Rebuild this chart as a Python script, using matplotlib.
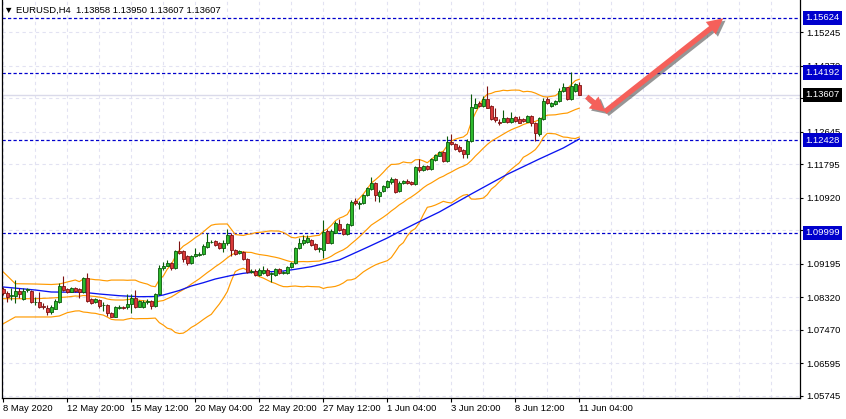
import matplotlib
matplotlib.use('Agg')
import matplotlib.pyplot as plt
import numpy as np
import pandas as pd
from matplotlib.patches import FancyArrowPatch
import matplotlib.patheffects as pe
from matplotlib.transforms import blended_transform_factory

plt.rcParams['font.family'] = ['Liberation Sans', 'DejaVu Sans']

# ---------------- data ----------------
opens = [1.08525, 1.08436, 1.08342, 1.08358, 1.08489, 1.08263, 1.08507, 1.08481, 1.08193, 1.08201,
         1.08095, 1.08027, 1.07925, 1.08016, 1.08201, 1.08611, 1.08533, 1.08462, 1.08567, 1.08525,
         1.08447, 1.08813, 1.08263, 1.08185, 1.08245, 1.08106, 1.08114, 1.07914, 1.07809, 1.08044,
         1.08062, 1.08055, 1.08140, 1.08305, 1.08069, 1.08055, 1.08193, 1.08219, 1.08095, 1.08394,
         1.09090, 1.09142, 1.09220, 1.09074, 1.09527, 1.09527, 1.09396, 1.09205, 1.09396, 1.09422,
         1.09440, 1.09639, 1.09762, 1.09788, 1.09728, 1.09613, 1.09728, 1.09945, 1.09553, 1.09466,
         1.09508, 1.09310, 1.08978, 1.09012, 1.08899, 1.08943, 1.09030, 1.08933, 1.08899, 1.09048,
         1.08960, 1.08943, 1.09100, 1.09205, 1.09597, 1.09728, 1.09770, 1.09814, 1.09709, 1.09571,
         1.09553, 1.10050, 1.09728, 1.10005, 1.10232, 1.10094, 1.09971, 1.10206, 1.10834, 1.10756,
         1.10774, 1.10991, 1.11148, 1.11312, 1.10965, 1.11095, 1.11192, 1.11339, 1.11409, 1.11103,
         1.11297, 1.11357, 1.11339, 1.11271, 1.11715, 1.11645, 1.11757, 1.11671, 1.11906, 1.12019,
         1.12108, 1.11880, 1.12369, 1.12324, 1.12254, 1.12168, 1.12055, 1.12403, 1.13274, 1.13404,
         1.13326, 1.13493, 1.13326, 1.13023, 1.12908, 1.12908, 1.12997, 1.12908, 1.13023, 1.12970,
         1.12970, 1.12908, 1.13057, 1.12866, 1.12586, 1.12978, 1.13493, 1.13326, 1.13370, 1.13457,
         1.13710, 1.13807, 1.13493, 1.13710, 1.13858]
highs = [1.08585, 1.08481, 1.08551, 1.08768, 1.08551, 1.08551, 1.08551, 1.08507, 1.08331, 1.08447,
         1.08158, 1.08114, 1.08114, 1.08271, 1.08682, 1.08873, 1.08559, 1.08585, 1.08593, 1.08559,
         1.08847, 1.08960, 1.08297, 1.08297, 1.08271, 1.08201, 1.08140, 1.07932, 1.08075, 1.08114,
         1.08101, 1.08394, 1.08394, 1.08507, 1.08245, 1.08245, 1.08263, 1.08245, 1.08428, 1.09160,
         1.09247, 1.09291, 1.09239, 1.09553, 1.09788, 1.09553, 1.09422, 1.09430, 1.09613, 1.09500,
         1.09709, 1.10005, 1.09814, 1.09814, 1.09762, 1.09814, 1.10094, 1.09989, 1.09579, 1.09553,
         1.09526, 1.09344, 1.09056, 1.09056, 1.09082, 1.09134, 1.09082, 1.08978, 1.09082, 1.09090,
         1.09004, 1.09134, 1.09247, 1.09631, 1.09858, 1.09945, 1.09945, 1.09840, 1.09736, 1.09631,
         1.10337, 1.10102, 1.10102, 1.10311, 1.10355, 1.10128, 1.10259, 1.10860, 1.10905, 1.10842,
         1.11017, 1.11200, 1.11454, 1.11331, 1.11122, 1.11252, 1.11396, 1.11469, 1.11435, 1.11357,
         1.11383, 1.11401, 1.11365, 1.11749, 1.11924, 1.11775, 1.11775, 1.11958, 1.12063, 1.12141,
         1.12141, 1.12541, 1.12586, 1.12351, 1.12298, 1.12194, 1.12455, 1.13624, 1.13519, 1.13449,
         1.13587, 1.13841, 1.13344, 1.13258, 1.12970, 1.13214, 1.13038, 1.13169, 1.13057, 1.13057,
         1.13004, 1.13083, 1.13083, 1.12900, 1.13031, 1.13519, 1.13546, 1.13431, 1.13475, 1.13781,
         1.13912, 1.13823, 1.14215, 1.13912, 1.13950]
lows = [1.08376, 1.08201, 1.08245, 1.08159, 1.08305, 1.08245, 1.08462, 1.08167, 1.08114, 1.08027,
        1.08001, 1.07853, 1.07871, 1.08010, 1.08159, 1.08481, 1.08428, 1.08454, 1.08462, 1.08305,
        1.08428, 1.08201, 1.08140, 1.08167, 1.08027, 1.07958, 1.07834, 1.07788, 1.07801, 1.08010,
        1.08010, 1.08001, 1.07897, 1.08027, 1.08049, 1.08036, 1.08140, 1.08001, 1.08062, 1.08376,
        1.09030, 1.09122, 1.09030, 1.09056, 1.09448, 1.09239, 1.09173, 1.09186, 1.09378, 1.09396,
        1.09422, 1.09597, 1.09728, 1.09657, 1.09579, 1.09508, 1.09683, 1.09396, 1.09422, 1.09448,
        1.09291, 1.08952, 1.08952, 1.08873, 1.08873, 1.08925, 1.08873, 1.08716, 1.08873, 1.08925,
        1.08925, 1.08925, 1.09082, 1.09186, 1.09571, 1.09683, 1.09728, 1.09657, 1.09553, 1.09508,
        1.09336, 1.09728, 1.09709, 1.09989, 1.10057, 1.09945, 1.09945, 1.10180, 1.10729, 1.10617,
        1.10756, 1.10965, 1.11122, 1.10842, 1.10816, 1.11069, 1.11174, 1.11278, 1.11035, 1.11069,
        1.11278, 1.11278, 1.11252, 1.11252, 1.11600, 1.11619, 1.11645, 1.11645, 1.11880, 1.11998,
        1.11854, 1.11862, 1.12298, 1.12168, 1.12115, 1.11951, 1.11951, 1.12385, 1.13258, 1.13292,
        1.13300, 1.13258, 1.12952, 1.12892, 1.12821, 1.12892, 1.12874, 1.12866, 1.12908, 1.12866,
        1.12900, 1.12887, 1.12795, 1.12403, 1.12541, 1.12952, 1.13370, 1.13300, 1.13357, 1.13431,
        1.13692, 1.13475, 1.13475, 1.13676, 1.13607]
closes = [1.08436, 1.08331, 1.08376, 1.08489, 1.08394, 1.08481, 1.08525, 1.08185, 1.08201, 1.08069,
          1.08069, 1.07941, 1.08069, 1.08219, 1.08611, 1.08507, 1.08462, 1.08567, 1.08489, 1.08447,
          1.08813, 1.08227, 1.08175, 1.08263, 1.08095, 1.08122, 1.07897, 1.07809, 1.08055, 1.08062,
          1.08044, 1.08140, 1.08305, 1.08069, 1.08219, 1.08201, 1.08211, 1.08095, 1.08394, 1.09090,
          1.09134, 1.09220, 1.09074, 1.09527, 1.09474, 1.09310, 1.09205, 1.09396, 1.09440, 1.09440,
          1.09657, 1.09770, 1.09770, 1.09683, 1.09597, 1.09744, 1.09945, 1.09553, 1.09440, 1.09527,
          1.09310, 1.08985, 1.08996, 1.08899, 1.09030, 1.09030, 1.08899, 1.08943, 1.09048, 1.08943,
          1.08970, 1.09116, 1.09220, 1.09597, 1.09744, 1.09814, 1.09858, 1.09683, 1.09571, 1.09605,
          1.10031, 1.09744, 1.10050, 1.10267, 1.10076, 1.09971, 1.10225, 1.10816, 1.10774, 1.10790,
          1.10991, 1.11166, 1.11312, 1.10991, 1.11077, 1.11226, 1.11365, 1.11409, 1.11077, 1.11312,
          1.11357, 1.11312, 1.11271, 1.11715, 1.11645, 1.11757, 1.11671, 1.11924, 1.12037, 1.12108,
          1.11880, 1.12369, 1.12317, 1.12186, 1.12141, 1.12055, 1.12403, 1.13300, 1.13370, 1.13326,
          1.13493, 1.13274, 1.12970, 1.12952, 1.12866, 1.12997, 1.12892, 1.13012, 1.12934, 1.12881,
          1.12926, 1.13057, 1.12866, 1.12604, 1.12997, 1.13449, 1.13404, 1.13404, 1.13457, 1.13710,
          1.13807, 1.13493, 1.13849, 1.13886, 1.13607]

# Bollinger band values at the left edge (before 20 bars are available)
bb_head_bars = [0, 3, 8, 12, 14, 16, 18]
bb_upper_head = [1.08977, 1.08671, 1.08663, 1.08650, 1.08663, 1.08716, 1.08768]
bb_mid_head = [1.08279, 1.08279, 1.08279, 1.08297, 1.08310, 1.08324, 1.08350]
bb_lower_head = [1.07625, 1.07801, 1.07801, 1.07801, 1.07827, 1.07913, 1.07957]

# blue moving average
ma_bars = [0, 8, 12, 20, 24, 29, 34, 38, 40, 44, 47, 50, 53, 57, 60, 64, 67, 70, 73, 77,
           84, 91, 96, 99, 104, 109, 117, 126, 134, 140, 144]
ma_vals = [1.08585, 1.08506, 1.08454, 1.08446, 1.08402, 1.08357, 1.08331, 1.08336, 1.08376,
           1.08493, 1.08611, 1.08697, 1.08794, 1.08886, 1.08943, 1.08985, 1.08985, 1.09003,
           1.09048, 1.09116, 1.09291, 1.09623, 1.09866, 1.10031, 1.10293, 1.10546, 1.11017,
           1.11532, 1.11932, 1.12220, 1.12455]

x_tick_bars = [0, 16, 32, 48, 64, 80, 96, 112, 128, 144]
x_tick_labels = ['8 May 2020', '12 May 20:00', '15 May 12:00', '20 May 04:00', '22 May 20:00',
                 '27 May 12:00', '1 Jun 04:00', '3 Jun 20:00', '8 Jun 12:00', '11 Jun 04:00']
y_tick_labels = ['1.15245', '1.14370', '1.13520', '1.12645', '1.11795', '1.10920',
                 '1.10070', '1.09195', '1.08320', '1.07470', '1.06595', '1.05745']
level_lines = [1.15624, 1.14192, 1.12428, 1.09999]
last_price = 1.13607
title_text = '\u25bc EURUSD,H4  1.13858 1.13950 1.13607 1.13607'

# arrows: (bar, price) start / end
arrow_short = ((145.85, 1.13561), (150.4, 1.13169))
arrow_long = ((150.4, 1.13169), (180.0, 1.15611))

# ---------------- figure ----------------
W, H = 846, 419
fig = plt.figure(figsize=(W / 100, H / 100), dpi=100)
ax_left, ax_right, ax_top, ax_bottom = 2.0, 800.3, 0.0, 397.7
ax = fig.add_axes([ax_left / W, (H - ax_bottom) / H, (ax_right - ax_left) / W, (ax_bottom - ax_top) / H])
ax.set_xlim(-0.325, 199.25)
ax.set_ylim(1.05690, 1.16090)

n = len(closes)
idx = np.arange(n)
o, hi, lo, c = map(np.array, (opens, highs, lows, closes))
up = c >= o

grid_col = '#E2E2F2'
yticks = [float(t) for t in y_tick_labels]
for yv in yticks:
    ax.axhline(yv, color=grid_col, lw=0.8, dashes=(3, 3), zorder=0.5)
for b in range(0, 200, 8):
    ax.axvline(b, color=grid_col, lw=0.8, dashes=(3, 3), zorder=0.5)

ax.axhline(last_price, color='#DADAEA', lw=1.0, zorder=1)
for lv in level_lines:
    ax.axhline(lv, color='#0000CD', lw=0.9, dashes=(2.6, 1.8), zorder=2)

# Bollinger bands (20, 2)
s = pd.Series(closes)
mid = s.rolling(20).mean()
sd = s.rolling(20).std(ddof=0)
upper = mid + 2 * sd
lower = mid - 2 * sd
bx = list(bb_head_bars) + list(range(19, n))
band_col = '#FF9A00'
for head, comp in ((bb_upper_head, upper), (bb_mid_head, mid), (bb_lower_head, lower)):
    ax.plot(bx, list(head) + list(comp.values[19:]), color=band_col, lw=0.85, zorder=2.5)

ax.plot(ma_bars, ma_vals, color='#0A14F0', lw=0.95, zorder=2.6)

# candles
g_fill, g_edge = '#2DBA2D', '#0A5A0A'
r_fill, r_edge = '#DA3A3A', '#7E1212'
ax.vlines(idx[up], lo[up], hi[up], color=g_edge, lw=0.8, zorder=3)
ax.vlines(idx[~up], lo[~up], hi[~up], color=r_edge, lw=0.8, zorder=3)
ax.bar(idx[up], (c - o)[up], bottom=o[up], width=0.72, color=g_fill, edgecolor=g_edge, lw=0.6, zorder=4)
ax.bar(idx[~up], (c - o)[~up], bottom=o[~up], width=0.72, color=r_fill, edgecolor=r_edge, lw=0.6, zorder=4)

# arrows
arrow_col = '#F5605A'
def draw_arrow(p0, p1, hl, hw, tw):
    arr = FancyArrowPatch(p0, p1,
                          arrowstyle=f'simple,head_length={hl},head_width={hw},tail_width={tw}',
                          mutation_scale=10, color=arrow_col, lw=0, zorder=6,
                          shrinkA=0, shrinkB=0, clip_on=False)
    arr.set_path_effects([pe.SimplePatchShadow(offset=(1.6, -1.6), shadow_rgbFace='#404040', alpha=0.55),
                          pe.Normal()])
    ax.add_patch(arr)

draw_arrow(arrow_short[0], arrow_short[1], 1.05, 1.1, 0.38)
draw_arrow(arrow_long[0], arrow_long[1], 1.15, 1.15, 0.38)

# axes / ticks
fs = 6.8
ax.spines['top'].set_visible(False)
for sp in ('left', 'right', 'bottom'):
    ax.spines[sp].set_color('black')
    ax.spines[sp].set_linewidth(0.9)
ax.yaxis.tick_right()
ax.set_yticks(yticks)
ax.set_yticklabels(y_tick_labels)
ax.set_xticks(x_tick_bars)
ax.set_xticklabels(x_tick_labels, ha='left')
ax.tick_params(axis='y', direction='out', length=2.5, width=0.8, pad=2, labelsize=fs, colors='black')
ax.tick_params(axis='x', direction='out', length=3, width=0.8, pad=1.5, labelsize=fs, colors='black')
ax.tick_params(left=False, top=False)

trans = blended_transform_factory(ax.transAxes, ax.transData)
lab_x = (822.5 - ax_left) / (ax_right - ax_left)
for lv in level_lines:
    ax.text(lab_x, lv, f'{lv:.5f}', transform=trans, ha='center', va='center', fontsize=fs,
            color='white', clip_on=False, zorder=10,
            bbox=dict(boxstyle='square,pad=0.28', fc='#0000CD', ec='none'))
ax.text(lab_x, last_price, f'{last_price:.5f}', transform=trans, ha='center', va='center', fontsize=fs,
        color='white', clip_on=False, zorder=10,
        bbox=dict(boxstyle='square,pad=0.28', fc='black', ec='none'))

fig.text(4 / W, 1 - 10 / H, title_text, fontsize=fs, va='center', ha='left', color='black')

fig.savefig('out.png', dpi=100)
